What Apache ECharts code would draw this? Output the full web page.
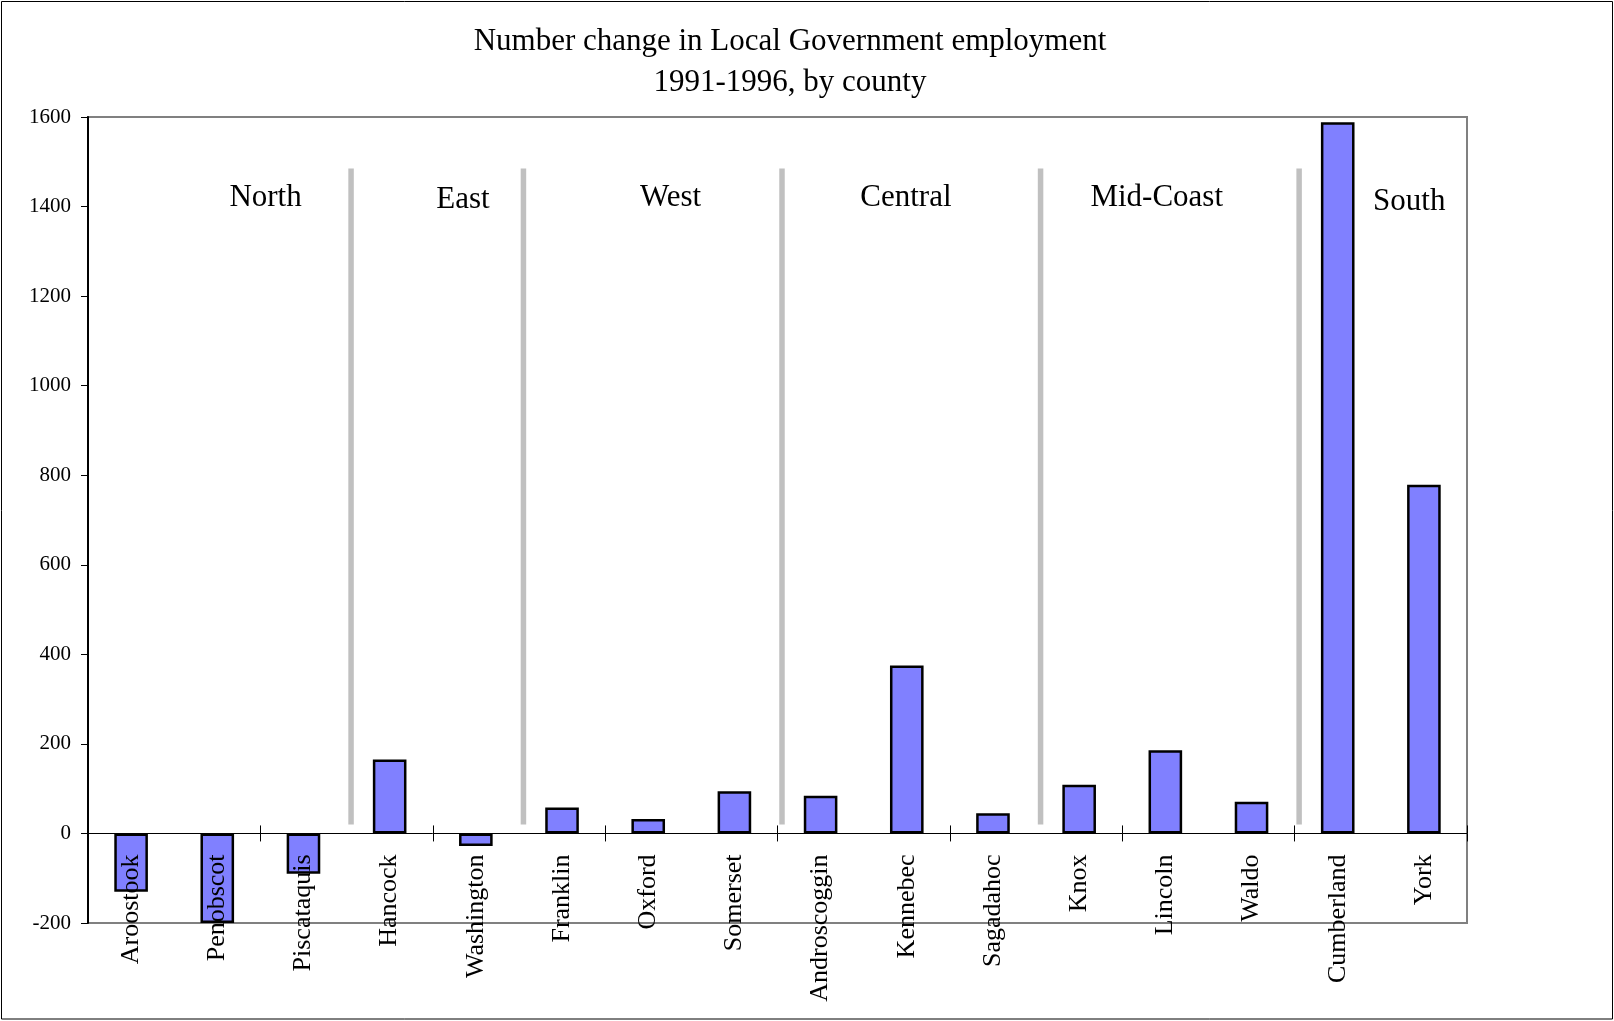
<!DOCTYPE html>
<html><head><meta charset="utf-8">
<script src="https://cdn.jsdelivr.net/npm/echarts@6/dist/echarts.min.js"></script>
<style>html,body{margin:0;padding:0;background:#fff}#c{width:1614px;height:1021px}</style>
</head><body><div id="c"></div>
<script>
// ---- data ----
const counties = ['Aroostook','Penobscot','Piscataquis','Hancock','Washington','Franklin','Oxford','Somerset','Androscoggin','Kennebec','Sagadahoc','Knox','Lincoln','Waldo','Cumberland','York'];
const changes = [-130, -200, -90, 165, -28, 58, 32, 94, 84, 375, 45, 109, 186, 71, 1588, 779];
const regions = ['North','East','West','Central','Mid-Coast','South'];
const regionSizes = [3, 2, 3, 3, 3, 2];
const yMin = -200, yMax = 1600, yStep = 200;

// ---- layout (annotation anchors, in axis units) ----
const regionLabelAnchor = [[2.06, 1420], [4.35, 1415], [6.76, 1420], [9.49, 1420], [12.4, 1420], [15.33, 1410]];
const sepTop = 1485, sepBottom = 20;

const boundaries = [];
let acc = 0;
regionSizes.slice(0, -1).forEach(n => { acc += n; boundaries.push([acc, sepTop]); });

const FONT = '"Liberation Serif", "Times New Roman", serif';
const chart = echarts.init(document.getElementById('c'), null, {renderer: 'canvas'});
chart.setOption({
  backgroundColor: '#fff',
  animation: false,
  title: {
    text: 'Number change in Local Government employment\n1991-1996, by county',
    left: 790, top: 21, textAlign: 'center', padding: 0,
    textStyle: {fontFamily: FONT, fontSize: 31, fontWeight: 'normal', color: '#000', lineHeight: 41}
  },
  grid: {left: 88, right: 147, top: 117, bottom: 98, containLabel: false, outerBoundsMode: 'none',
         show: true, borderColor: '#808080', borderWidth: 2, backgroundColor: 'transparent'},
  xAxis: [
    {
      type: 'category', data: counties, position: 'bottom',
      axisLine: {onZero: true, onZeroAxisIndex: 0, lineStyle: {color: '#000', width: 1}},
      axisTick: {show: true, inside: false, length: 8, lineStyle: {color: '#000', width: 1}},
      axisLabel: {show: false},
      splitLine: {show: false}
    },
    {
      type: 'category', data: counties, position: 'bottom',
      axisLine: {show: false, onZero: true, onZeroAxisIndex: 0},
      axisTick: {show: true, inside: true, length: 8, lineStyle: {color: '#000', width: 1}},
      axisLabel: {show: false}, splitLine: {show: false}
    },
    {
      type: 'value', min: 0, max: counties.length, show: false,
      axisLine: {onZero: false}, splitLine: {show: false}
    }
  ],
  yAxis: {
    type: 'value', min: yMin, max: yMax, interval: yStep,
    axisLine: {show: true, onZero: false, lineStyle: {color: '#000', width: 2}},
    axisTick: {show: true, inside: false, length: 7, lineStyle: {color: '#000', width: 1}},
    axisLabel: {margin: 17, fontFamily: FONT, fontSize: 21, color: '#000', formatter: v => String(v)},
    splitLine: {show: false}
  },
  series: [
    {
      type: 'bar', xAxisIndex: 0, data: changes, barWidth: '39%',
      itemStyle: {color: '#8080ff', borderColor: '#000', borderWidth: 2.5},
      silent: true
    },
    {
      type: 'custom', xAxisIndex: 2, yAxisIndex: 0, data: boundaries, silent: true,
      encode: {x: 0, y: 1},
      renderItem: function (params, api) {
        const x = api.coord([api.value(0), 0])[0] + 4.5;
        const top = api.coord([0, sepTop])[1];
        const bot = api.coord([0, sepBottom])[1];
        return {type: 'rect', shape: {x: x - 2.75, y: top, width: 5.5, height: bot - top}, style: {fill: '#c0c0c0'}};
      }
    },
    {
      type: 'custom', xAxisIndex: 2, yAxisIndex: 0, data: regionLabelAnchor, silent: true,
      encode: {x: 0, y: 1},
      renderItem: function (params, api) {
        const p = api.coord([api.value(0), api.value(1)]);
        return {type: 'text', x: p[0], y: p[1], style: {text: regions[params.dataIndex], fill: '#000', font: '31px ' + FONT, textAlign: 'center', textVerticalAlign: 'middle'}};
      }
    },
    {
      // county names as category-axis labels, anchored on the zero line
      type: 'custom', xAxisIndex: 0, yAxisIndex: 0, z: 5, silent: true, clip: false,
      data: counties.map((c, i) => [i, 0]),
      encode: {x: 0, y: 1},
      renderItem: function (params, api) {
        const p = api.coord([api.value(0), 0]);
        return {type: 'text', x: p[0], y: p[1] + 21, rotation: Math.PI / 2,
                style: {text: counties[params.dataIndex], fill: '#000', font: '26px ' + FONT, textAlign: 'right', textVerticalAlign: 'middle'}};
      }
    }
  ],
  graphic: [{type: 'rect', shape: {x: 1.5, y: 1.5, width: 1611, height: 1017.5}, style: {fill: 'none', stroke: '#000', lineWidth: 1}, silent: true, z: 100}]
});
</script></body></html>
